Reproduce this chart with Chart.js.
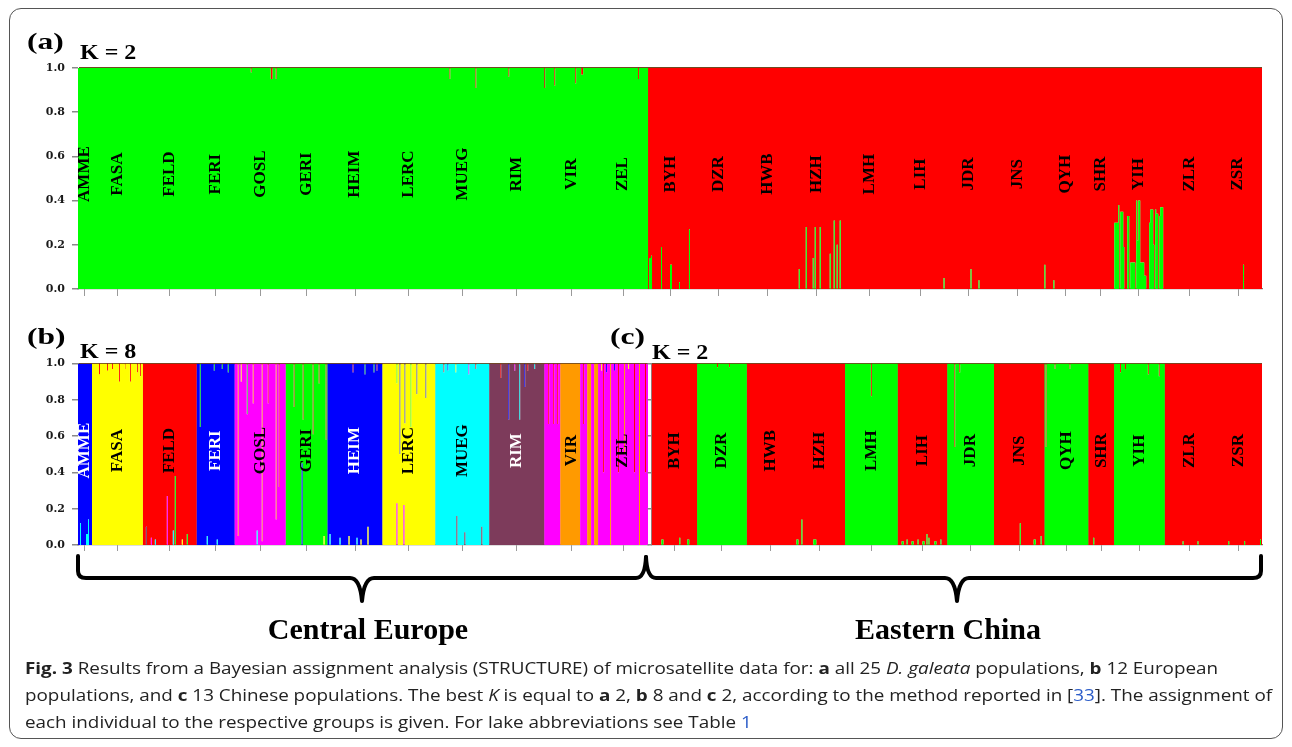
<!DOCTYPE html>
<html>
<head>
<meta charset="utf-8">
<script src="https://cdn.jsdelivr.net/npm/chart.js@4.4.1/dist/chart.umd.min.js"></script>
<style>
  html, body { margin: 0; padding: 0; background: #fff; }
  #fig { position: relative; width: 1292px; height: 747px; overflow: hidden; font-family: "Liberation Serif", "Times New Roman", serif; }
  .frame { position: absolute; left: 9px; top: 8px; width: 1274px; height: 731px; border: 1px solid #555; border-radius: 12px; box-sizing: border-box; }
  .box { position: absolute; }
  .tag { position: absolute; font-weight: bold; white-space: nowrap; line-height: 1; transform-origin: 0 0; color: #000; z-index: 3; }
  .region { position: absolute; width: 400px; text-align: center; font-weight: bold; font-size: 30px; line-height: 1; }
  #braces { position: absolute; left: 0; top: 0; }
  #caption { position: absolute; left: 25px; top: 654px; font-family: "Open Sans", sans-serif; font-size: 16.5px; line-height: 27px; color: #222; }
  #caption div { white-space: nowrap; width: max-content; transform-origin: 0 0; }
  #caption .ref { color: #2b5cc8; }
</style>
</head>
<body>
<div id="fig">
  <div class="frame"></div>

  <div class="box" style="left:0;top:0;width:1292px;height:310px"><canvas id="panelA"></canvas></div>
  <div class="box" style="left:0;top:310px;width:660px;height:250px"><canvas id="panelB"></canvas></div>
  <div class="box" style="left:640px;top:310px;width:652px;height:250px"><canvas id="panelC"></canvas></div>

  <div class="tag" style="left:27px;top:29.6px;font-size:23px;transform:scaleX(1.37)">(a)</div>
  <div class="tag" style="left:80px;top:41.5px;font-size:20px;transform:scaleX(1.2)">K = 2</div>
  <div class="tag" style="left:27px;top:324.6px;font-size:23px;transform:scaleX(1.37)">(b)</div>
  <div class="tag" style="left:80px;top:341.2px;font-size:20px;transform:scaleX(1.2)">K = 8</div>
  <div class="tag" style="left:610px;top:324.6px;font-size:23px;transform:scaleX(1.37)">(c)</div>
  <div class="tag" style="left:652px;top:341.5px;font-size:20px;transform:scaleX(1.2)">K = 2</div>

  <svg id="braces" width="1292" height="747">
    <g fill="none" stroke="#000" stroke-width="4" stroke-linecap="round" stroke-linejoin="round">
      <path d="M78,556 L78,571 Q78,578 86,578 L350,578 Q360,578 362,601 Q364,578 374,578 L636,578 Q645,578 646,557"/>
      <path d="M646,557 Q647,578 656,578 L945,578 Q955,578 957,601 Q959,578 969,578 L1253,578 Q1261,578 1261,571 L1261,556"/>
    </g>
  </svg>
  <div class="region" style="left:168px;top:614px">Central Europe</div>
  <div class="region" style="left:748px;top:614px">Eastern China</div>

  <div id="caption">
    <div><b>Fig. 3</b> Results from a Bayesian assignment analysis (STRUCTURE) of microsatellite data for: <b>a</b> all 25 <i>D. galeata</i> populations, <b>b</b> 12 European</div>
    <div>populations, and <b>c</b> 13 Chinese populations. The best <i>K</i> is equal to <b>a</b> 2, <b>b</b> 8 and <b>c</b> 2, according to the method reported in [<span class="ref">33</span>]. The assignment of</div>
    <div>each individual to the respective groups is given. For lake abbreviations see Table <span class="ref">1</span></div>
  </div>
</div>

<script>
// populations and their widths (number of individuals)
const europePops = ['AMME', 'FASA', 'FELD', 'FERI', 'GOSL', 'GERI', 'HEIM', 'LERC', 'MUEG', 'RIM', 'VIR', 'ZEL'];
const europeSizes = [14, 51, 54, 38, 51, 42, 55, 53, 54, 55, 54, 50];
const chinaPops = ['BYH', 'DZR', 'HWB', 'HZH', 'LMH', 'LIH', 'JDR', 'JNS', 'QYH', 'SHR', 'YIH', 'ZLR', 'ZSR'];
const chinaSizes = [46, 50, 47, 52, 53, 50, 47, 51, 44, 26, 51, 50, 48];

const yTicks = [0, 0.2, 0.4, 0.6, 0.8, 1.0];

// clusters, bottom to top of each bar
const k2Clusters = ['green', 'red'];
const k8Clusters = ['brown', 'cyan', 'magenta', 'yellow', 'blue', 'green', 'orange', 'red'];
const clusterColor = {
  green: '#00ff00', red: '#ff0000', blue: '#0000ff', yellow: '#ffff00',
  magenta: '#ff00ff', cyan: '#00ffff', brown: '#7d3b5b', orange: '#ff9a00'
};

// (a) K = 2, main cluster of each population (Europe then China)
const mainA = ['green', 'green', 'green', 'green', 'green', 'green', 'green', 'green', 'green', 'green', 'green', 'green',
  'red', 'red', 'red', 'red', 'red', 'red', 'red', 'red', 'red', 'red', 'red', 'red', 'red'];
// admixed individuals: [population, position in population, width, share of the other cluster]
const mixA = [
  ['GOSL', 16, 1, 0.02], ['GOSL', 36, 2, 0.05], ['GOSL', 41, 1, 0.05],
  ['MUEG', 14, 1, 0.05], ['MUEG', 40, 1, 0.09],
  ['RIM', 19, 1, 0.04],
  ['VIR', 0, 1, 0.09], ['VIR', 10, 1, 0.08], ['VIR', 31, 1, 0.07], ['VIR', 37, 2, 0.03],
  ['ZEL', 40, 1, 0.05],
  ['BYH', 1, 2, 0.14], ['BYH', 3, 1, 0.15], ['BYH', 13, 1, 0.19], ['BYH', 22, 2, 0.11], ['BYH', 31, 1, 0.03], ['BYH', 41, 1, 0.27],
  ['HZH', 8, 1, 0.09], ['HZH', 15, 1, 0.28], ['HZH', 22, 1, 0.14], ['HZH', 24, 1, 0.28], ['HZH', 29, 1, 0.28],
  ['HZH', 39, 1, 0.16], ['HZH', 43, 1, 0.31], ['HZH', 46, 1, 0.2], ['HZH', 49, 1, 0.31],
  ['LIH', 48, 1, 0.05],
  ['JDR', 25, 1, 0.09], ['JDR', 33, 1, 0.04],
  ['QYH', 1, 1, 0.11], ['QYH', 10, 1, 0.04],
  ['YIH', 1, 4, 0.3], ['YIH', 5, 1, 0.38], ['YIH', 7, 3, 0.35], ['YIH', 10, 1, 0.19], ['YIH', 14, 2, 0.33],
  ['YIH', 17, 5, 0.12], ['YIH', 23, 1, 0.4], ['YIH', 24, 1, 0.22], ['YIH', 25, 2, 0.4], ['YIH', 27, 4, 0.12],
  ['YIH', 31, 2, 0.06], ['YIH', 36, 1, 0.3], ['YIH', 37, 3, 0.36], ['YIH', 40, 1, 0.2], ['YIH', 42, 1, 0.36],
  ['YIH', 43, 2, 0.34], ['YIH', 46, 1, 0.33], ['YIH', 47, 3, 0.37],
  ['ZSR', 29, 1, 0.11]
];

// (b) K = 8, Europe only
const mainB = ['blue', 'yellow', 'red', 'blue', 'magenta', 'green', 'blue', 'yellow', 'cyan', 'brown', 'orange', 'magenta'];
// [population, position, width, cluster, share]
const mixB = [
  ['AMME', 2, 1, 'cyan', 0.12], ['AMME', 8, 2, 'cyan', 0.06], ['AMME', 10, 1, 'cyan', 0.14],
  ['FASA', 7, 1, 'red', 0.06], ['FASA', 15, 1, 'red', 0.04], ['FASA', 20, 1, 'red', 0.03], ['FASA', 27, 1, 'red', 0.1],
  ['FASA', 33, 1, 'orange', 0.03], ['FASA', 38, 1, 'red', 0.1], ['FASA', 45, 1, 'red', 0.05], ['FASA', 48, 1, 'red', 0.07],
  ['FELD', 3, 1, 'brown', 0.1], ['FELD', 8, 1, 'magenta', 0.04], ['FELD', 12, 1, 'cyan', 0.03], ['FELD', 24, 1, 'magenta', 0.27],
  ['FELD', 30, 1, 'cyan', 0.08], ['FELD', 32, 1, 'green', 0.38], ['FELD', 39, 1, 'yellow', 0.03], ['FELD', 44, 1, 'green', 0.06],
  ['FERI', 3, 1, 'green', 0.35], ['FERI', 10, 1, 'cyan', 0.05], ['FERI', 17, 1, 'green', 0.04], ['FERI', 20, 1, 'cyan', 0.03],
  ['FERI', 25, 1, 'green', 0.03], ['FERI', 31, 1, 'green', 0.05],
  ['GOSL', 3, 1, 'orange', 0.95], ['GOSL', 6, 1, 'yellow', 0.1], ['GOSL', 12, 1, 'green', 0.28], ['GOSL', 18, 1, 'orange', 0.22],
  ['GOSL', 22, 1, 'cyan', 0.08], ['GOSL', 27, 1, 'orange', 0.98], ['GOSL', 33, 1, 'red', 0.22], ['GOSL', 41, 1, 'orange', 0.86],
  ['GOSL', 44, 1, 'red', 0.68],
  ['GERI', 8, 1, 'red', 0.24], ['GERI', 16, 1, 'blue', 0.45], ['GERI', 17, 1, 'red', 0.31], ['GERI', 27, 1, 'red', 0.39],
  ['GERI', 33, 1, 'red', 0.11], ['GERI', 38, 1, 'yellow', 0.05], ['GERI', 40, 1, 'red', 0.42],
  ['HEIM', 2, 1, 'cyan', 0.06], ['HEIM', 12, 1, 'cyan', 0.04], ['HEIM', 21, 1, 'yellow', 0.05], ['HEIM', 25, 1, 'red', 0.05],
  ['HEIM', 29, 1, 'cyan', 0.04], ['HEIM', 33, 1, 'yellow', 0.03], ['HEIM', 37, 1, 'green', 0.06], ['HEIM', 40, 1, 'yellow', 0.1],
  ['HEIM', 46, 1, 'green', 0.05], ['HEIM', 49, 1, 'red', 0.04],
  ['LERC', 14, 1, 'green', 0.11], ['LERC', 14, 1, 'magenta', 0.23], ['LERC', 17, 1, 'blue', 0.5], ['LERC', 21, 1, 'magenta', 0.22],
  ['LERC', 22, 1, 'blue', 0.33], ['LERC', 28, 1, 'green', 0.35], ['LERC', 34, 1, 'blue', 0.17], ['LERC', 43, 1, 'blue', 0.19],
  ['MUEG', 8, 1, 'red', 0.05], ['MUEG', 12, 1, 'blue', 0.04], ['MUEG', 20, 1, 'yellow', 0.05], ['MUEG', 21, 1, 'brown', 0.16],
  ['MUEG', 29, 1, 'brown', 0.07], ['MUEG', 33, 1, 'magenta', 0.06], ['MUEG', 40, 1, 'red', 0.03], ['MUEG', 46, 1, 'brown', 0.1],
  ['RIM', 11, 1, 'red', 0.08], ['RIM', 19, 1, 'blue', 0.31], ['RIM', 25, 1, 'magenta', 0.04], ['RIM', 30, 1, 'cyan', 0.31],
  ['RIM', 35, 1, 'blue', 0.13], ['RIM', 38, 1, 'red', 0.04], ['RIM', 45, 1, 'cyan', 0.03],
  ['VIR', 0, 16, 'magenta', 1], ['VIR', 4, 1, 'red', 0.5], ['VIR', 9, 1, 'red', 0.5], ['VIR', 13, 1, 'red', 0.5],
  ['VIR', 36, 7, 'magenta', 1], ['VIR', 39, 1, 'red', 0.5], ['VIR', 47, 3, 'magenta', 1],
  ['ZEL', 3, 1, 'yellow', 0.04], ['ZEL', 5, 1, 'red', 0.6], ['ZEL', 8, 1, 'blue', 0.05], ['ZEL', 12, 1, 'orange', 1],
  ['ZEL', 16, 1, 'blue', 0.04], ['ZEL', 20, 1, 'red', 0.6], ['ZEL', 26, 1, 'orange', 0.5], ['ZEL', 30, 1, 'yellow', 0.03],
  ['ZEL', 36, 1, 'red', 0.6], ['ZEL', 41, 1, 'orange', 1], ['ZEL', 47, 1, 'red', 0.6]
];
const labelColorB = ['#fff', '#000', '#000', '#fff', '#000', '#000', '#fff', '#000', '#000', '#fff', '#000', '#000'];

// (c) K = 2, China only
const mainC = ['red', 'green', 'red', 'red', 'green', 'red', 'green', 'red', 'green', 'red', 'green', 'red', 'red'];
const mixC = [
  ['BYH', 10, 2, 0.03], ['BYH', 28, 1, 0.04], ['BYH', 36, 2, 0.03],
  ['DZR', 20, 1, 0.02], ['DZR', 32, 1, 0.02],
  ['HZH', 3, 2, 0.03], ['HZH', 8, 1, 0.14], ['HZH', 20, 3, 0.03],
  ['LMH', 26, 1, 0.18],
  ['LIH', 4, 2, 0.02], ['LIH', 9, 1, 0.03], ['LIH', 14, 2, 0.02], ['LIH', 20, 1, 0.03], ['LIH', 25, 2, 0.02],
  ['LIH', 29, 1, 0.06], ['LIH', 31, 1, 0.04], ['LIH', 37, 2, 0.02], ['LIH', 43, 1, 0.03],
  ['JDR', 7, 1, 0.46], ['JDR', 12, 1, 0.05],
  ['JNS', 26, 1, 0.12], ['JNS', 40, 2, 0.03], ['JNS', 47, 1, 0.05],
  ['QYH', 1, 1, 0.46], ['QYH', 10, 1, 0.03], ['QYH', 25, 1, 0.03],
  ['SHR', 5, 1, 0.04],
  ['YIH', 6, 1, 0.05], ['YIH', 11, 1, 0.03], ['YIH', 34, 1, 0.06], ['YIH', 45, 1, 0.07],
  ['ZLR', 18, 1, 0.02], ['ZLR', 33, 1, 0.02], ['ZSR', 14, 1, 0.02], ['ZSR', 30, 1, 0.02], ['ZSR', 46, 1, 0.03]
];

function otherK2(mainList, names, mix) {
  return mix.map(([pop, off, w, share]) => {
    const m = mainList[names.indexOf(pop)];
    return [pop, off, w, m === 'green' ? 'red' : 'green', share];
  });
}

function buildPanel(names, sizes, main, mix, clusters) {
  const starts = [];
  let total = 0;
  sizes.forEach(n => { starts.push(total); total += n; });
  const cuts = new Set([...starts, total]);
  const spans = mix.map(([pop, off, w, cl, share]) => {
    const a = starts[names.indexOf(pop)] + off;
    cuts.add(a); cuts.add(a + w);
    return { a, b: a + w, cl, share };
  });
  const xs = [...cuts].sort((p, q) => p - q);
  const series = clusters.map(() => []);
  for (let k = 0; k < xs.length - 1; k++) {
    const mid = (xs[k] + xs[k + 1]) / 2;
    let p = starts.length - 1;
    while (starts[p] > mid) p--;
    const comp = {};
    clusters.forEach(c => comp[c] = 0);
    comp[main[p]] = 1;
    spans.forEach(s => {
      if (mid > s.a && mid < s.b) { comp[s.cl] += s.share; comp[main[p]] -= s.share; }
    });
    let sum = 0;
    clusters.forEach(c => { if (comp[c] < 0) comp[c] = 0; sum += comp[c]; });
    clusters.forEach((c, j) => series[j].push({ x: xs[k], y: comp[c] / sum }));
  }
  series.forEach(s => s.push({ x: total, y: s[s.length - 1].y }));
  return {
    series, total,
    mids: starts.map((s, i) => s + sizes[i] / 2),
    bounds: starts.slice(1)
  };
}

const popLabels = {
  id: 'popLabels',
  afterDraw(chart, args, opts) {
    const { ctx } = chart;
    const x = chart.scales.x, y = chart.scales.y;
    ctx.save();
    ctx.font = 'bold 17px "Liberation Serif", "Times New Roman", serif';
    ctx.textAlign = 'center';
    ctx.textBaseline = 'middle';
    opts.names.forEach((n, i) => {
      ctx.save();
      ctx.translate(x.getPixelForValue(opts.mids[i]), y.getPixelForValue(opts.level));
      ctx.rotate(-Math.PI / 2);
      ctx.fillStyle = opts.colors ? opts.colors[i] : '#000';
      ctx.fillText(n, 0, 0);
      ctx.restore();
    });
    ctx.restore();
  }
};

function makePanel(id, p, clusters, names, cfg) {
  const datasets = clusters.map((c, j) => ({
    data: p.series[j],
    stepped: true,
    fill: j === 0 ? 'origin' : '-1',
    backgroundColor: clusterColor[c],
    borderColor: 'rgba(0,0,0,0)',
    borderWidth: 0,
    pointRadius: 0,
    tension: 0
  }));
  return new Chart(document.getElementById(id), {
    type: 'line',
    data: { datasets },
    plugins: [popLabels],
    options: {
      responsive: true,
      maintainAspectRatio: false,
      animation: false,
      events: [],
      layout: { padding: cfg.padding },
      plugins: {
        legend: { display: false },
        tooltip: { enabled: false },
        popLabels: { names, mids: p.mids, level: 0.52, colors: cfg.labelColors }
      },
      scales: {
        x: {
          type: 'linear', min: 0, max: p.total,
          afterBuildTicks: s => { s.ticks = p.mids.map(v => ({ value: v })); },
          afterFit: s => { s.height = cfg.xHeight; },
          ticks: { display: false },
          grid: { drawOnChartArea: false, drawTicks: true, tickLength: cfg.tickLen, color: '#9a9a9a' },
          border: { display: true, color: '#7a7a7a', width: 1.2 }
        },
        x2: {
          type: 'linear', position: 'top', min: 0, max: p.total, z: 1,
          afterBuildTicks: s => { s.ticks = p.bounds.map(v => ({ value: v })); },
          afterFit: s => { s.height = 0; },
          ticks: { display: false },
          grid: { drawOnChartArea: true, drawTicks: false, color: cfg.sepColor, lineWidth: 1 },
          border: { display: false }
        },
        y: {
          stacked: true, min: 0, max: 1, z: 1,
          afterBuildTicks: s => { s.ticks = yTicks.map(v => ({ value: v })); },
          afterFit: s => { s.width = cfg.yWidth; },
          ticks: {
            display: cfg.yLabels,
            padding: 7,
            color: '#1a1a1a',
            font: { family: '"DejaVu Serif", serif', weight: 'bold', size: 11 },
            callback: v => v.toFixed(1)
          },
          grid: {
            drawTicks: true, tickLength: cfg.yTickLen,
            color: c => (c.tick && c.tick.value === 1 ? '#6f4a22' : 'rgba(0,0,0,0)'),
            tickColor: '#8a8a8a', lineWidth: 1.5
          },
          border: { display: true, color: '#8a8a8a' }
        }
      }
    }
  });
}

const allPops = europePops.concat(chinaPops);
const allSizes = europeSizes.concat(chinaSizes);

const pA = buildPanel(allPops, allSizes, mainA, otherK2(mainA, allPops, mixA), k2Clusters);
const pB = buildPanel(europePops, europeSizes, mainB, mixB, k8Clusters);
const pC = buildPanel(chinaPops, chinaSizes, mainC, otherK2(mainC, chinaPops, mixC), k2Clusters);

makePanel('panelA', pA, k2Clusters, allPops, {
  padding: { left: 30, right: 30, top: 68, bottom: 7 }, xHeight: 14, tickLen: 7,
  yWidth: 48, yLabels: true, yTickLen: 6, sepColor: 'rgba(30,30,30,0.55)'
});
makePanel('panelB', pB, k8Clusters, europePops, {
  padding: { left: 30, right: 12, top: 53.5, bottom: 5 }, xHeight: 10, tickLen: 6,
  yWidth: 48, yLabels: true, yTickLen: 6, sepColor: 'rgba(30,30,30,0.25)', labelColors: labelColorB
});
makePanel('panelC', pC, k2Clusters, chinaPops, {
  padding: { left: 3.5, right: 30, top: 53.5, bottom: 5 }, xHeight: 10, tickLen: 6,
  yWidth: 8, yLabels: false, yTickLen: 4, sepColor: 'rgba(30,30,30,0.5)'
});

// squeeze caption lines to the measured line width of the original
const captionWidths = [1197, 1243];
function fitCaption() {
  const lines = document.querySelectorAll('#caption div');
  let f = 0;
  captionWidths.forEach((w, i) => { f += w / lines[i].getBoundingClientRect().width / captionWidths.length; });
  lines.forEach(el => { el.style.transform = 'scaleX(' + f.toFixed(4) + ')'; });
}
document.fonts.ready.then(() => { document.querySelectorAll('#caption div').forEach(el => el.style.transform = ''); fitCaption(); });
fitCaption();
</script>
</body>
</html>
